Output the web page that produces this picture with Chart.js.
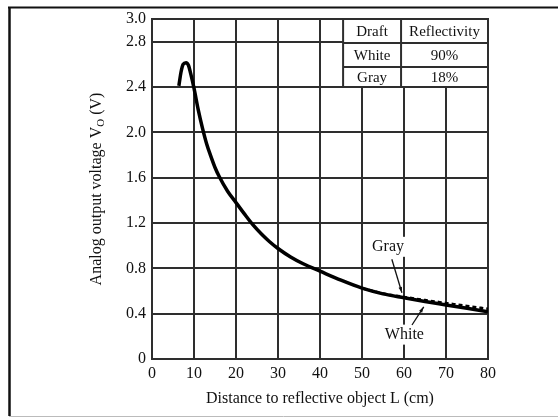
<!DOCTYPE html>
<html>
<head>
<meta charset="utf-8">
<script src="https://cdn.jsdelivr.net/npm/chart.js@4.4.0/dist/chart.umd.min.js"></script>
<style>
  html, body { margin: 0; padding: 0; background: #fff; }
  #wrap { position: relative; width: 558px; height: 417px; }
</style>
</head>
<body>
<div id="wrap"><canvas id="chart" width="558" height="417"></canvas></div>
<script>
// Datos
const distance = [6.4, 6.9, 7.4, 8.1, 8.7, 9.2, 10, 11, 12, 13, 14, 15, 16, 18, 20, 22, 24, 26, 28, 30, 33, 36, 40, 45, 50, 55, 60, 65, 70, 75, 80];
const whiteVolts = [2.41, 2.53, 2.60, 2.615, 2.59, 2.52, 2.39, 2.20, 2.04, 1.90, 1.79, 1.69, 1.61, 1.48, 1.38, 1.28, 1.185, 1.105, 1.035, 0.975, 0.90, 0.84, 0.775, 0.695, 0.625, 0.575, 0.54, 0.507, 0.477, 0.447, 0.417];
const grayDistance = [50, 55, 60, 65, 70, 75, 80];
const grayVolts = [0.625, 0.578, 0.548, 0.52, 0.494, 0.468, 0.443];

const xTicks = [0, 10, 20, 30, 40, 50, 60, 70, 80];
const yTicks = [0, 0.4, 0.8, 1.2, 1.6, 2.0, 2.4, 2.8, 3.0];

const tableRows = [
    ['Draft', 'Reflectivity'],
    ['White', '90%'],
    ['Gray', '18%']
];

const serif = '"Liberation Serif", "DejaVu Serif", serif';
const ink = '#111';
const gridColor = '#2e2e2e';

// Marco, tabla, etiquetas y titulo del eje Y
const extras = {
    id: 'extras',
    beforeDraw(chart) {
        const ctx = chart.ctx;
        ctx.save();
        ctx.fillStyle = '#fff';
        ctx.fillRect(0, 0, chart.width, chart.height);
        ctx.strokeStyle = '#111';
        ctx.lineWidth = 2;
        ctx.beginPath();
        ctx.moveTo(8, 7.5);
        ctx.lineTo(chart.width, 7.5);
        ctx.stroke();
        ctx.lineWidth = 2.5;
        ctx.beginPath();
        ctx.moveTo(9.5, 7);
        ctx.lineTo(9.5, 416);
        ctx.stroke();
        ctx.strokeStyle = '#bbb';
        ctx.lineWidth = 1;
        ctx.beginPath();
        ctx.moveTo(9, 416.5);
        ctx.lineTo(chart.width, 416.5);
        ctx.stroke();
        ctx.restore();
    },
    afterDatasetsDraw(chart) {
        const ctx = chart.ctx;
        const xs = chart.scales.x, ys = chart.scales.y;
        const area = chart.chartArea;
        ctx.save();

        // tabla
        const left = xs.getPixelForValue(45.5);
        const mid = xs.getPixelForValue(59.3);
        const right = area.right;
        const top = area.top;
        const bottom = ys.getPixelForValue(2.4);
        const rowH = [24, 24, bottom - top - 48];
        ctx.fillStyle = '#fff';
        ctx.fillRect(left, top, right - left, bottom - top);
        ctx.strokeStyle = gridColor;
        ctx.lineWidth = 2;
        ctx.strokeRect(left, top, right - left, bottom - top);
        ctx.beginPath();
        ctx.moveTo(mid, top); ctx.lineTo(mid, bottom);
        let y = top;
        for (let i = 0; i < 2; i++) {
            y += rowH[i];
            ctx.moveTo(left, y); ctx.lineTo(right, y);
        }
        ctx.stroke();
        ctx.fillStyle = ink;
        ctx.font = '15px ' + serif;
        ctx.textAlign = 'center';
        ctx.textBaseline = 'middle';
        y = top;
        tableRows.forEach((row, i) => {
            const cy = y + rowH[i] / 2 + 1;
            ctx.fillText(row[0], (left + mid) / 2, cy);
            ctx.fillText(row[1], (mid + right) / 2, cy);
            y += rowH[i];
        });

        // etiquetas con flecha
        ctx.font = '16px ' + serif;
        const notes = [
            { text: 'Gray', at: [56.2, 0.99], from: [57.1, 0.88], to: [59.5, 0.585] },
            { text: 'White', at: [60.1, 0.215], from: [61.9, 0.30], to: [64.7, 0.46] }
        ];
        notes.forEach(n => {
            const tx = xs.getPixelForValue(n.at[0]);
            const ty = ys.getPixelForValue(n.at[1]);
            const w = ctx.measureText(n.text).width;
            ctx.fillStyle = '#fff';
            ctx.fillRect(tx - w / 2 - 2, ty - 10, w + 4, 20);
            ctx.fillStyle = ink;
            ctx.fillText(n.text, tx, ty);
            const x1 = xs.getPixelForValue(n.from[0]), y1 = ys.getPixelForValue(n.from[1]);
            const x2 = xs.getPixelForValue(n.to[0]), y2 = ys.getPixelForValue(n.to[1]);
            ctx.strokeStyle = ink;
            ctx.lineWidth = 1.3;
            ctx.beginPath();
            ctx.moveTo(x1, y1); ctx.lineTo(x2, y2);
            ctx.stroke();
            const a = Math.atan2(y2 - y1, x2 - x1);
            ctx.beginPath();
            ctx.moveTo(x2, y2);
            ctx.lineTo(x2 - 6 * Math.cos(a - 0.3), y2 - 6 * Math.sin(a - 0.3));
            ctx.lineTo(x2 - 6 * Math.cos(a + 0.3), y2 - 6 * Math.sin(a + 0.3));
            ctx.closePath();
            ctx.fill();
        });

        // titulo del eje Y con subindice
        const cx = 96;
        const cy = (area.top + area.bottom) / 2;
        ctx.translate(cx, cy);
        ctx.rotate(-Math.PI / 2);
        const big = '16px ' + serif, small = '11px ' + serif;
        ctx.font = big;
        const p1 = 'Analog output voltage V';
        const p3 = ' (V)';
        const w1 = ctx.measureText(p1).width;
        const w3 = ctx.measureText(p3).width;
        ctx.font = small;
        const w2 = ctx.measureText('O').width;
        let x = -(w1 + w2 + w3) / 2;
        ctx.textAlign = 'left';
        ctx.textBaseline = 'alphabetic';
        ctx.fillStyle = ink;
        ctx.font = big;
        ctx.fillText(p1, x, 5);
        x += w1;
        ctx.font = small;
        ctx.fillText('O', x, 8);
        x += w2;
        ctx.font = big;
        ctx.fillText(p3, x, 5);
        ctx.restore();
    }
};

new Chart(document.getElementById('chart'), {
    type: 'scatter',
    data: {
        datasets: [
            {
                label: 'White',
                data: distance.map((d, i) => ({ x: d, y: whiteVolts[i] })),
                showLine: true,
                borderColor: '#000',
                borderWidth: 3.5,
                pointRadius: 0,
                cubicInterpolationMode: 'monotone'
            },
            {
                label: 'Gray',
                data: grayDistance.map((d, i) => ({ x: d, y: grayVolts[i] })),
                showLine: true,
                borderColor: '#000',
                borderWidth: 2.5,
                borderDash: [4, 3],
                pointRadius: 0,
                cubicInterpolationMode: 'monotone'
            }
        ]
    },
    options: {
        responsive: false,
        animation: false,
        layout: { padding: { left: 0, top: 19, right: 70, bottom: 0 } },
        plugins: { legend: { display: false }, tooltip: { enabled: false } },
        scales: {
            x: {
                type: 'linear',
                min: 0,
                max: 80,
                afterBuildTicks: s => { s.ticks = xTicks.map(v => ({ value: v })); },
                afterFit: s => { s.height = 58; },
                grid: { color: gridColor, lineWidth: 2, drawTicks: false },
                border: { color: gridColor, width: 2 },
                ticks: { color: ink, font: { family: serif, size: 16 }, padding: 5, maxRotation: 0 },
                title: {
                    display: true,
                    text: 'Distance to reflective object L (cm)',
                    color: ink,
                    font: { family: serif, size: 16 },
                    padding: { top: 0, bottom: 9 }
                }
            },
            y: {
                type: 'linear',
                min: 0,
                max: 3.0,
                afterBuildTicks: s => { s.ticks = yTicks.map(v => ({ value: v })); },
                afterFit: s => { s.width = 152; },
                grid: { color: gridColor, lineWidth: 2, drawTicks: false },
                border: { color: gridColor, width: 2 },
                ticks: {
                    color: ink,
                    font: { family: serif, size: 16 },
                    padding: 6,
                    callback: v => v === 0 ? '0' : v.toFixed(1)
                }
            }
        }
    },
    plugins: [extras]
});
</script>
</body>
</html>
